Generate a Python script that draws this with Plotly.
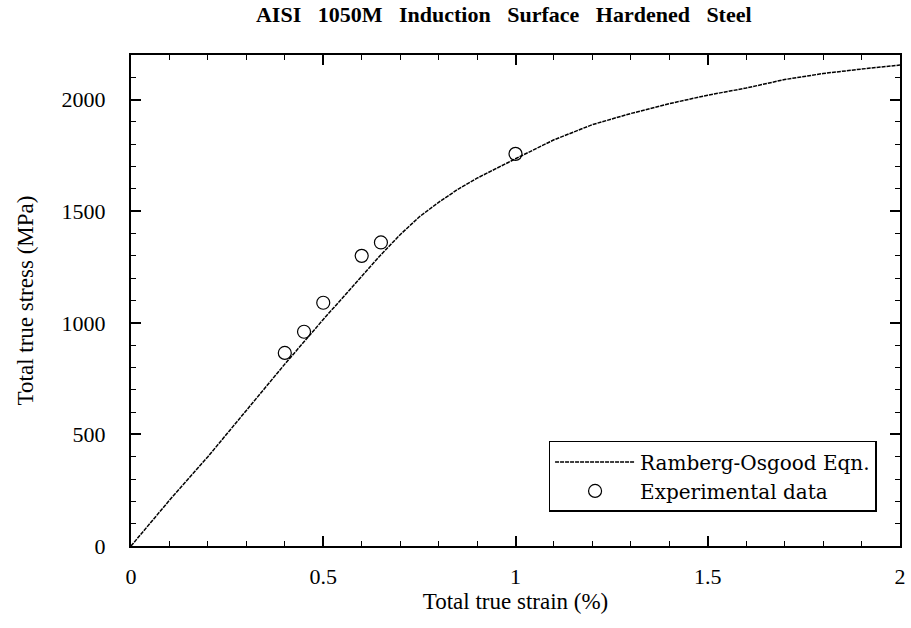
import plotly.graph_objects as go

# Ramberg-Osgood curve
ro_strain = [0, 0.1, 0.2, 0.3, 0.4, 0.5, 0.6, 0.65, 0.7, 0.75, 0.8, 0.85, 0.9, 0.95,
             1.0, 1.1, 1.2, 1.3, 1.4, 1.5, 1.6, 1.7, 1.8, 1.9, 2.0]
ro_stress = [0, 205, 400, 610, 815, 1015, 1210, 1305, 1395, 1475, 1540, 1598, 1648, 1692,
             1735, 1820, 1888, 1938, 1982, 2020, 2052, 2090, 2117, 2137, 2155]

# Experimental data
exp_strain = [0.40, 0.45, 0.50, 0.60, 0.65, 1.00]
exp_stress = [865, 960, 1090, 1300, 1360, 1757]

FONT = "Liberation Serif"

fig = go.Figure()
fig.add_trace(go.Scatter(
    x=ro_strain, y=ro_stress, mode="lines", name="Ramberg-Osgood Eqn.",
    line=dict(color="black", width=1.5, dash="4px,1px"),
))
fig.add_trace(go.Scatter(
    x=exp_strain, y=exp_stress, mode="markers", name="Experimental data",
    marker=dict(symbol="circle-open", size=13, color="black", line=dict(width=1.2)),
))

axis_common = dict(
    showline=True, linecolor="black", linewidth=2, mirror="allticks",
    ticks="inside", ticklen=10, tickwidth=1.5, tickcolor="black",
    showgrid=False, zeroline=False,
    tickfont=dict(family=FONT, size=22, color="black"),
)

fig.update_xaxes(
    range=[0, 2], dtick=0.5, tick0=0,
    minor=dict(dtick=0.1, ticks="inside", ticklen=5, tickwidth=1.2, tickcolor="black", showgrid=False),
    title=dict(text="Total true strain (%)", font=dict(family=FONT, size=23, color="black"), standoff=0),
    ticklabelstandoff=10,
    **axis_common,
)
fig.update_yaxes(
    range=[0, 2200], dtick=500, tick0=0,
    minor=dict(dtick=100, ticks="inside", ticklen=5, tickwidth=1.2, tickcolor="black", showgrid=False),
    title=dict(text="Total true stress (MPa)", font=dict(family=FONT, size=23, color="black"), standoff=22),
    ticklabelstandoff=19,
    **axis_common,
)

fig.update_layout(
    width=911, height=628,
    margin=dict(l=131, r=5, t=55, b=82),
    paper_bgcolor="white", plot_bgcolor="white",
    title=dict(text="<b>AISI   1050M   Induction   Surface   Hardened   Steel</b>",
               font=dict(family=FONT, size=22, color="black"),
               x=0.553, xanchor="center", y=0.978, yanchor="middle"),
    showlegend=True,
    legend=dict(x=0.543, y=0.214, xanchor="left", yanchor="top",
                bgcolor="white", bordercolor="black", borderwidth=1.5,
                font=dict(family="DejaVu Serif", size=20, color="black"),
                itemwidth=80, tracegroupgap=0),
)

fig.write_html("out.html", config={"displayModeBar": False},
               post_script="document.body.style.margin='0';")
